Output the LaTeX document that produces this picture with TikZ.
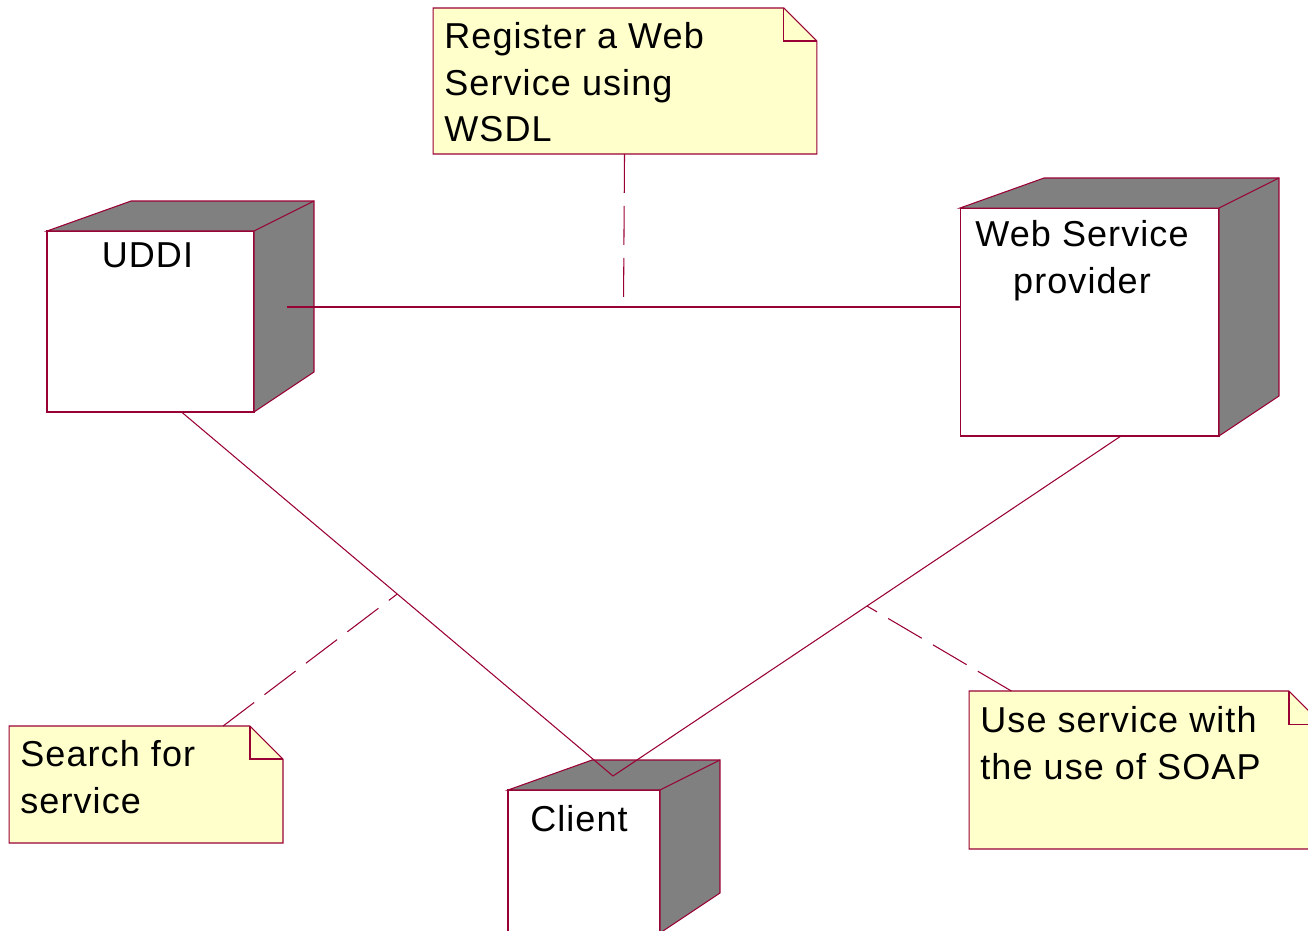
\documentclass[tikz,border=0pt]{standalone}
\usepackage{fontspec}
\setmainfont{Liberation Sans}[LetterSpace=3]
\usetikzlibrary{positioning,calc}

\definecolor{umlred}{RGB}{153,0,51}
\definecolor{notebg}{RGB}{255,255,204}
\definecolor{cubegray}{RGB}{128,128,128}

% top and side face of a node cube
\newcommand{\cubefaces}[1]{%
  \draw[outline, fill=cubegray] (#1.north west) -- ++(84,-30) -- ($(#1.north east)+(60,-30)$)
    -- ($(#1.south east)+(60,-40)$) -- (#1.south east) -- (#1.north east) -- cycle;
  \draw[outline] (#1.north east) -- ++(60,-30);
}
% dog-eared border of a note
\newcommand{\notefold}[1]{%
  \fill[white] ($(#1.north east)+(-33,0)$) -- (#1.north east) -- ($(#1.north east)+(0,33)$) -- cycle;
  \draw[outline] (#1.north west) -- ($(#1.north east)+(-33,0)$) -- ($(#1.north east)+(0,33)$)
    -- (#1.south east) -- (#1.south west) -- cycle;
  \draw[outline] ($(#1.north east)+(-33,0)$) |- ($(#1.north east)+(0,33)$);
}

\begin{document}
\begin{tikzpicture}[
  x=0.02cm, y=-0.02cm,
  font=\fontsize{20.5}{26.5}\selectfont,
  outline/.style={draw=umlred, line width=0.6pt},
  cube/.style={outline, fill=white, inner sep=0pt, outer sep=0pt},
  note/.style={fill=notebg, inner sep=0pt, outer sep=0pt},
  txt/.style={inner sep=0pt, align=left},
  link/.style={umlred, line width=0.6pt},
  memo/.style={link, dash pattern=on 0.78cm off 0.26cm}
]
\useasboundingbox (0,0) rectangle (1308,930);
\clip (0,0) rectangle (1308,930);

% ---- nodes ----
\node[cube, minimum width=4.14cm, minimum height=3.62cm] (uddi) at (150.5,321.5) {};
\cubefaces{uddi}
\node[txt, below=0.22cm of uddi.north, xshift=-0.06cm] (uddi-lbl) {UDDI};

\node[cube, minimum width=5.18cm, minimum height=4.56cm] (provider) at (1089.5,322) {};
\cubefaces{provider}
\node[txt, align=center, below=0.24cm of provider.north, xshift=-0.15cm] (provider-lbl)
  {Web Service\\provider};

\node[cube, minimum width=3.04cm, minimum height=2.86cm] (client) at (584,861.5) {};
\cubefaces{client}
\node[txt, below=0.3cm of client.north, xshift=-0.1cm] (client-lbl) {Client};

% ---- notes ----
\node[note, minimum width=7.68cm, minimum height=2.92cm] (reg) at (625,81) {};
\notefold{reg}
\node[txt, below right=0.28cm and 0.22cm of reg.north west] (reg-txt)
  {Register a Web\\Service using\\WSDL};

\node[note, minimum width=5.48cm, minimum height=2.34cm] (search) at (146,784.5) {};
\notefold{search}
\node[txt, below right=0.28cm and 0.22cm of search.north west] (search-txt)
  {Search for\\service};

\node[note, minimum width=7.06cm, minimum height=3.16cm] (use) at (1145.5,770) {};
\notefold{use}
\node[txt, below right=0.3cm and 0.22cm of use.north west] (use-txt)
  {Use service with\\the use of SOAP};

% ---- links ----
\draw[link] ($(uddi.east)+(33,-14.5)$) -- coordinate (reg-pt) ($(provider.west)+(0,-15)$);
\draw[link] ($(uddi.south)+(31,0)$) -- coordinate (find-pt) ($(client.north)+(29,-14)$);
\draw[link] ($(provider.south)+(31.5,0)$) -- coordinate (use-pt) ($(client.north)+(29,-14)$);

% ---- note anchors ----
\draw[memo, shorten >=0.14cm] (reg) -- (reg-pt);
\draw[memo] (search) -- (find-pt);
\draw[memo] (use) -- (use-pt);
\end{tikzpicture}
\end{document}
